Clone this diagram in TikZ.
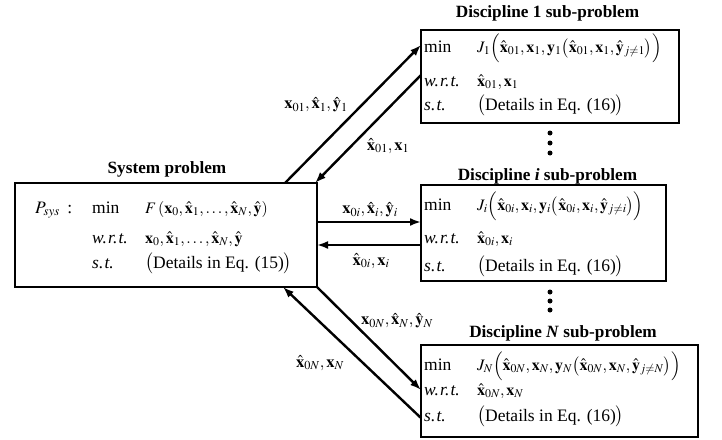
\documentclass[tikz,border=0pt]{standalone}
\usepackage{mathptmx}
\usepackage{fontspec}
\setmainfont{Liberation Serif}
\usetikzlibrary{arrows.meta}
\newcommand{\bx}{\mathbf{x}}
\newcommand{\by}{\mathbf{y}}
\newcommand{\hx}{\hat{\mathbf{x}}}
\newcommand{\hy}{\hat{\mathbf{y}}}
\newcommand{\wrt}{\textit{w.\kern1.2pt r.\kern1.2pt t.}}
\newcommand{\st}{\textit{s.\kern1.2pt t.}}
\begin{document}
\begin{tikzpicture}[x=1pt,y=-1pt,
  box/.style={draw, line width=2.6pt, inner sep=0pt, outer sep=0pt},
  ttl/.style={font=\fontsize{17.2}{20}\selectfont\bfseries, anchor=base, inner sep=0pt},
  txt/.style={font=\fontsize{17.5}{20}\selectfont, anchor=base west, inner sep=0pt},
  mth/.style={font=\fontsize{16}{19}\selectfont, anchor=base west, inner sep=0pt},
  lbl/.style={font=\fontsize{16.5}{19}\selectfont, inner sep=0pt},
  arr/.style={line width=2.4pt, -{Latex[length=11pt,width=8pt]}},
  dotn/.style={circle, fill, inner sep=0pt, minimum size=5pt}]
\useasboundingbox (0,0) rectangle (722,439);
% boxes
\node[box, minimum width=302pt, minimum height=104pt] (sys) at (166,235) {};
\node[box, minimum width=258pt, minimum height=93pt] (d1) at (550,76.5) {};
\node[box, minimum width=245pt, minimum height=96pt] (di) at (543.5,233) {};
\node[box, minimum width=277pt, minimum height=92pt] (dN) at (559.5,391) {};
% titles
\node[ttl] (tsys) at (167,173) {System problem};
\node[ttl] (t1) at (547.5,17) {Discipline 1 sub-problem};
\node[ttl] (ti) at (547.5,180) {Discipline \textit{i} sub-problem};
\node[ttl] (tN) at (563,337) {Discipline \textit{N} sub-problem};
% system problem text
\node[txt] (sysP) at (35,213) {$P_{sys}$\ \,:};
\node[txt] (sysm) at (92,213) {min};
\node[mth] (sysf) at (145,213) {$F\left(\bx_0,\hx_1,\ldots,\hx_N,\hy\right)$};
\node[txt] (sysw) at (92,243) {\wrt};
\node[mth] (sysv) at (145,243) {$\bx_0,\hx_1,\ldots,\hx_N,\hy$};
\node[txt] (syss) at (92,268) {\st};
\node[txt] (sysd) at (145,268) {$\bigl($Details in Eq. (15)$\bigr)$};
% discipline 1
\node[txt] (d1m) at (424,52) {min};
\node[mth] (d1f) at (477,52) {$J_1\Bigl(\hx_{01},\bx_1,\by_1\bigl(\hx_{01},\bx_1,\hy_{j\neq 1}\bigr)\Bigr)$};
\node[txt] (d1w) at (424,86) {\wrt};
\node[mth] (d1v) at (477,86) {$\hx_{01},\bx_1$};
\node[txt] (d1s) at (424,110) {\st};
\node[txt] (d1d) at (477,110) {$\bigl($Details in Eq. (16)$\bigr)$};
% discipline i
\node[txt] (dim) at (424,210) {min};
\node[mth] (dif) at (477,210) {$J_i\Bigl(\hx_{0i},\bx_i,\by_i\bigl(\hx_{0i},\bx_i,\hy_{j\neq i}\bigr)\Bigr)$};
\node[txt] (diw) at (424,243) {\wrt};
\node[mth] (div) at (477,243) {$\hx_{0i},\bx_i$};
\node[txt] (dis) at (424,271) {\st};
\node[txt] (did) at (477,271) {$\bigl($Details in Eq. (16)$\bigr)$};
% discipline N
\node[txt] (dNm) at (424,370) {min};
\node[mth] (dNf) at (477,370) {$J_N\Bigl(\hx_{0N},\bx_N,\by_N\bigl(\hx_{0N},\bx_N,\hy_{j\neq N}\bigr)\Bigr)$};
\node[txt] (dNw) at (424,395) {\wrt};
\node[mth] (dNv) at (477,395) {$\hx_{0N},\bx_N$};
\node[txt] (dNs) at (424,421) {\st};
\node[txt] (dNd) at (477,421) {$\bigl($Details in Eq. (16)$\bigr)$};
% dots
\node[dotn] (v1) at (550,133) {};
\node[dotn] (v2) at (550,143) {};
\node[dotn] (v3) at (550,153) {};
\node[dotn] (v4) at (550,292) {};
\node[dotn] (v5) at (550,301) {};
\node[dotn] (v6) at (550,310) {};
% arrows
\draw[arr] ([xshift=-32pt]sys.north east) -- ([yshift=31.5pt]d1.west);
\draw[arr] ([yshift=1.5pt]d1.west) -- ([xshift=-2pt]sys.north east);
\draw[arr] ([yshift=13pt]sys.east) -- ([yshift=11pt]di.west);
\draw[arr] ([yshift=-12pt]di.west) -- ([yshift=-10pt]sys.east);
\draw[arr] (sys.south east) -- ([yshift=1pt]dN.west);
\draw[arr] ([yshift=-27pt]dN.west) -- ([xshift=-34pt]sys.south east);
% labels
\node[lbl] (l1) at (316,105) {$\bx_{01},\hx_1,\hy_1$};
\node[lbl] (l2) at (388,146) {$\hx_{01},\bx_1$};
\node[lbl] (l3) at (370,210) {$\bx_{0i},\hx_i,\hy_i$};
\node[lbl] (l4) at (371,261) {$\hx_{0i},\bx_i$};
\node[lbl] (l5) at (397,321) {$\bx_{0N},\hx_N,\hy_N$};
\node[lbl] (l6) at (320,363) {$\hx_{0N},\bx_N$};
\end{tikzpicture}
\end{document}
